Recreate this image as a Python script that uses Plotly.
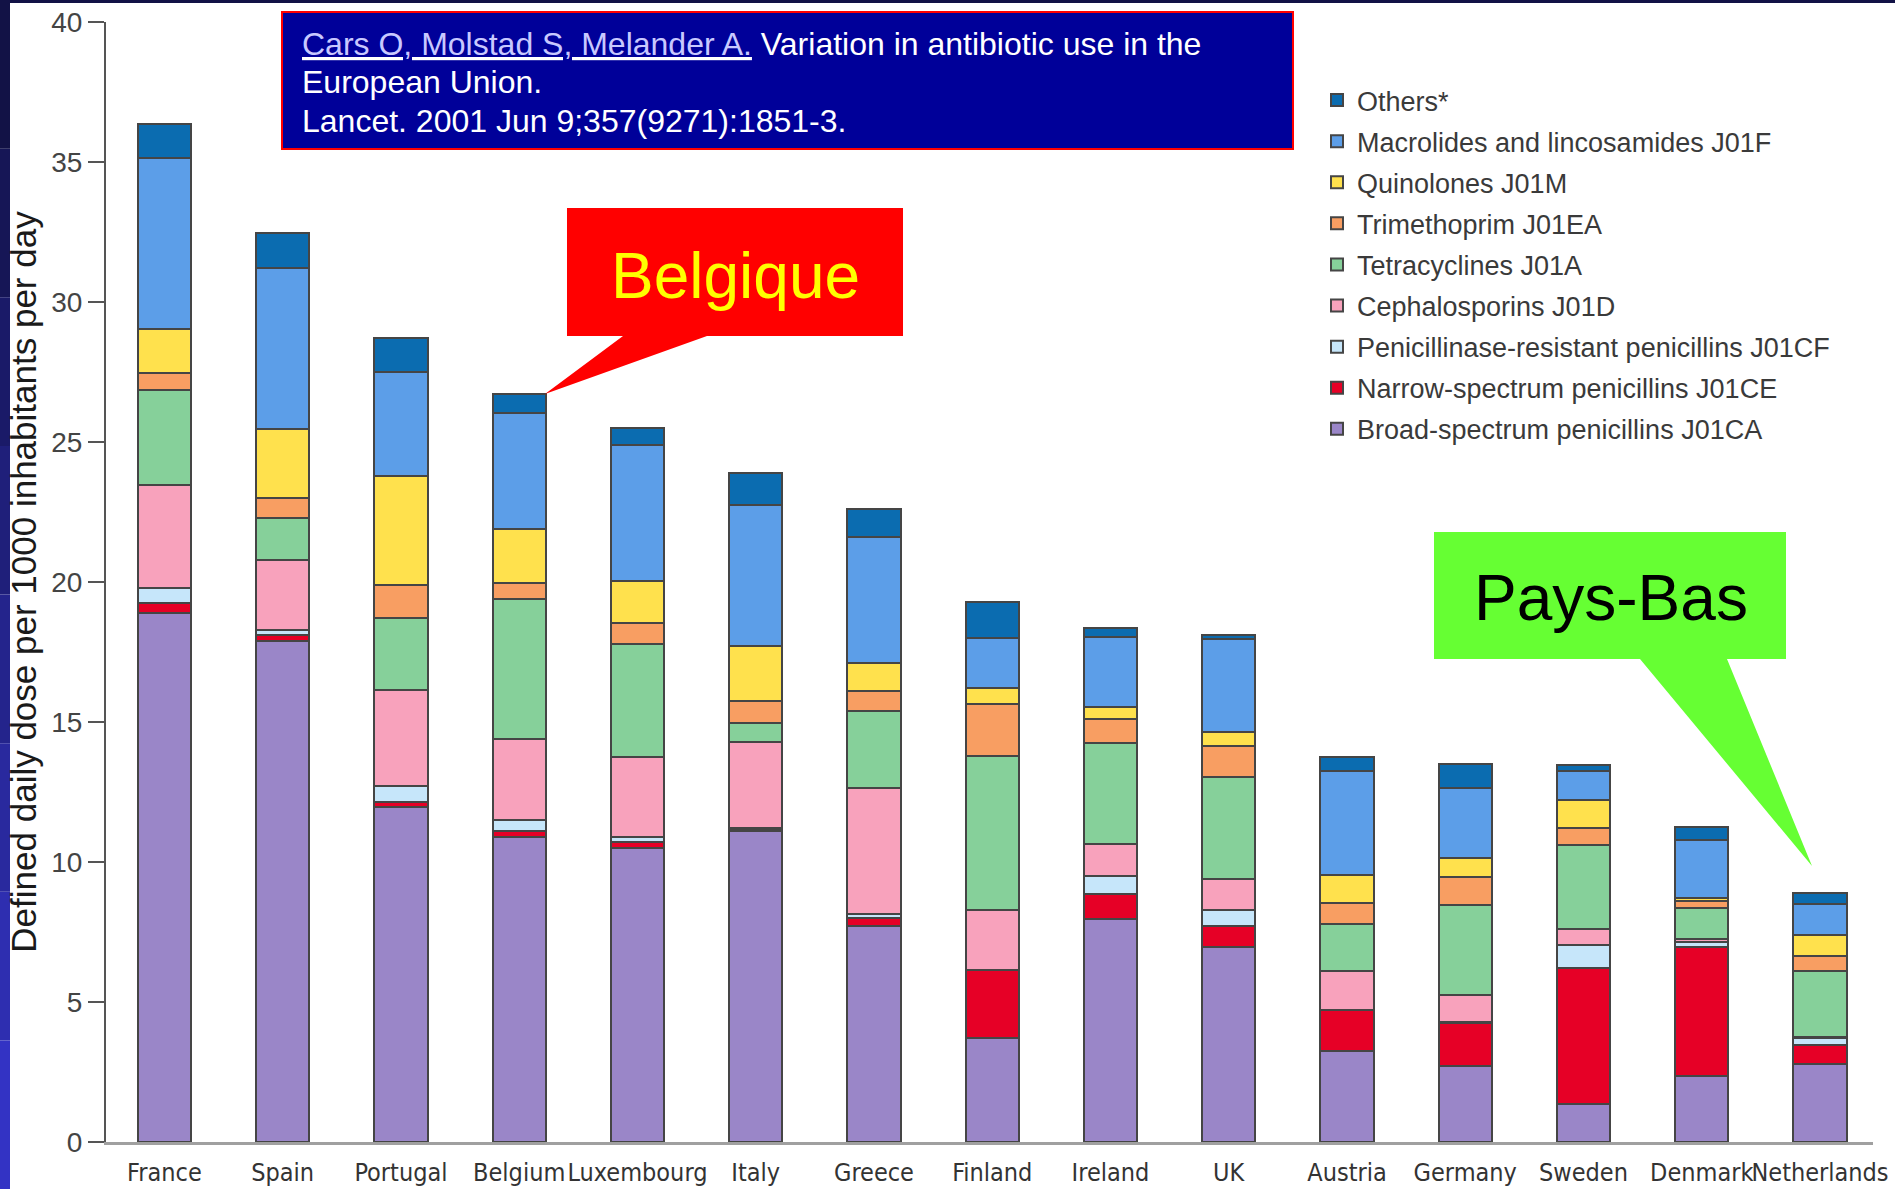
import plotly.graph_objects as go

# Defined daily dose per 1000 inhabitants per day (Cars et al., Lancet 2001)
countries = ['France', 'Spain', 'Portugal', 'Belgium', 'Luxembourg', 'Italy', 'Greece', 'Finland',
             'Ireland', 'UK', 'Austria', 'Germany', 'Sweden', 'Denmark', 'Netherlands']

broad = [18.9, 17.9, 11.95, 10.9, 10.5, 11.1, 7.7, 3.7, 7.95, 6.95, 3.25, 2.7, 1.35, 2.35, 2.8]
narrow = [0.35, 0.2, 0.2, 0.2, 0.2, 0.05, 0.3, 2.45, 0.9, 0.75, 1.45, 1.55, 4.85, 4.6, 0.65]
penres = [0.55, 0.2, 0.55, 0.4, 0.2, 0.05, 0.15, 0.0, 0.65, 0.6, 0.0, 0.05, 0.85, 0.2, 0.25]
ceph = [3.65, 2.5, 3.45, 2.9, 2.85, 3.1, 4.5, 2.15, 1.15, 1.1, 1.4, 0.95, 0.55, 0.1, 0.05]
tetra = [3.4, 1.5, 2.55, 5.0, 4.05, 0.65, 2.75, 5.5, 3.6, 3.65, 1.7, 3.2, 3.0, 1.1, 2.35]
trimeth = [0.6, 0.7, 1.2, 0.55, 0.75, 0.8, 0.7, 1.85, 0.85, 1.1, 0.75, 1.0, 0.6, 0.25, 0.55]
quin = [1.6, 2.45, 3.9, 1.95, 1.5, 1.95, 1.0, 0.55, 0.45, 0.5, 1.0, 0.7, 1.0, 0.1, 0.75]
macro = [6.1, 5.75, 3.7, 4.15, 4.85, 5.05, 4.5, 1.8, 2.5, 3.3, 3.7, 2.5, 1.05, 2.1, 1.1]
others = [1.2, 1.25, 1.2, 0.65, 0.6, 1.15, 1.0, 1.3, 0.3, 0.15, 0.5, 0.85, 0.2, 0.45, 0.4]

series = [
    ('Broad-spectrum penicillins J01CA', broad, '#9a86c8'),
    ('Narrow-spectrum penicillins J01CE', narrow, '#e60026'),
    ('Penicillinase-resistant penicillins J01CF', penres, '#c6e6fa'),
    ('Cephalosporins J01D', ceph, '#f8a2bc'),
    ('Tetracyclines J01A', tetra, '#86d09a'),
    ('Trimethoprim J01EA', trimeth, '#f89e62'),
    ('Quinolones J01M', quin, '#ffe14d'),
    ('Macrolides and lincosamides J01F', macro, '#5c9ee8'),
    ('Others*', others, '#0b6cb0'),
]

W, H = 1895, 1189
ML, MR, MT, MB = 106, 22, 22, 47
PW, PH = W - ML - MR, H - MT - MB


def px(x):
    return (x - ML) / PW


def py(y):
    return (H - MB - y) / PH


def path(points):
    return 'M' + ' L'.join(f'{px(a):.5f},{py(b):.5f}' for a, b in points) + ' Z'


fig = go.Figure()
for i, (name, vals, col) in enumerate(series):
    fig.add_trace(go.Bar(x=countries, y=vals, name=name, width=0.45,
                         marker=dict(color=col, line=dict(color='#454545', width=2)),
                         legendgroup=str(i), legendrank=len(series) - i))

shapes = []
# slide border (left gradient strip + top strip)
band_cols = ['#121246', '#161656', '#1a1a68', '#1f1f7a', '#24248c', '#29299e', '#2e2eb0', '#3333c4']
for k, c in enumerate(band_cols):
    shapes.append(dict(type='rect', xref='paper', yref='paper', x0=px(0), x1=px(10),
                       y0=py(H * (k + 1) / len(band_cols)), y1=py(H * k / len(band_cols)),
                       fillcolor=c, line=dict(width=0), layer='above'))
shapes.append(dict(type='rect', xref='paper', yref='paper', x0=px(0), x1=px(W), y0=py(3), y1=py(0),
                   fillcolor='#121246', line=dict(width=0), layer='above'))

# citation box
shapes.append(dict(type='rect', xref='paper', yref='paper', x0=px(282), x1=px(1293), y0=py(149), y1=py(12),
                   fillcolor='#000099', line=dict(color='#ff0000', width=2), layer='above'))
# callouts
shapes.append(dict(type='path', xref='paper', yref='paper', fillcolor='#ff0000', line=dict(width=0), layer='above',
                   path=path([(567, 208), (903, 208), (903, 336), (707, 336), (545, 394), (623, 336), (567, 336)])))
shapes.append(dict(type='path', xref='paper', yref='paper', fillcolor='#66ff33', line=dict(width=0), layer='above',
                   path=path([(1434, 532), (1786, 532), (1786, 659), (1727, 659), (1812, 866), (1640, 659), (1434, 659)])))

cite = [
    "<span style='text-decoration:underline'><span style='fill:#c8c8ff'>Cars O, Molstad S, Melander A.</span></span>"
    " Variation in antibiotic use in the",
    "European Union.",
    "Lancet. 2001 Jun 9;357(9271):1851-3.",
]
annotations = []
for k, line in enumerate(cite):
    annotations.append(dict(text=line, xref='paper', yref='paper', x=px(300), y=py(44 + 38.3 * k),
                            xanchor='left', yanchor='middle', showarrow=False,
                            font=dict(family='Liberation Sans, Arial', size=32, color='#ffffff')))
annotations.append(dict(text='Belgique', xref='paper', yref='paper', x=px(735), y=py(276),
                        xanchor='center', yanchor='middle', showarrow=False,
                        font=dict(family='Liberation Sans, Arial', size=64, color='#ffff00')))
annotations.append(dict(text='Pays-Bas', xref='paper', yref='paper', x=px(1611), y=py(598),
                        xanchor='center', yanchor='middle', showarrow=False,
                        font=dict(family='Liberation Sans, Arial', size=64, color='#000000')))

fig.update_layout(
    width=W, height=H,
    margin=dict(l=ML, r=MR, t=MT, b=MB, autoexpand=False),
    paper_bgcolor='white', plot_bgcolor='white',
    barmode='stack',
    shapes=shapes, annotations=annotations,
    legend=dict(x=px(1317), y=py(76), xanchor='left', yanchor='top', traceorder='grouped',
                tracegroupgap=3, bgcolor='rgba(0,0,0,0)',
                font=dict(family='Liberation Sans, Arial', size=27, color='#3a3a3a')),
    xaxis=dict(type='category', range=[-0.494, 14.448], showline=True, linecolor='#a0a0a0', linewidth=3,
               ticks='', showgrid=False, tickangle=0, ticklabelstandoff=6,
               tickfont=dict(family='DejaVu Sans Condensed, Liberation Sans, sans-serif', size=25,
                             color='#333333')),
    yaxis=dict(range=[0, 40], tickvals=[0, 5, 10, 15, 20, 25, 30, 35, 40], showline=True, linecolor='#555555',
               linewidth=2, ticks='outside', ticklen=16, tickwidth=2, tickcolor='#555555', showgrid=False,
               zeroline=False,
               tickfont=dict(family='Liberation Sans, Arial', size=28, color='#444444'),
               title=dict(text='Defined daily dose per 1000 inhabitants per day', standoff=4,
                          font=dict(family='Liberation Sans, Arial', size=35, color='#1a1a1a'))),
)

fig.write_html('out.html', config={'displayModeBar': False},
               post_script="document.body.style.margin = '0';")
